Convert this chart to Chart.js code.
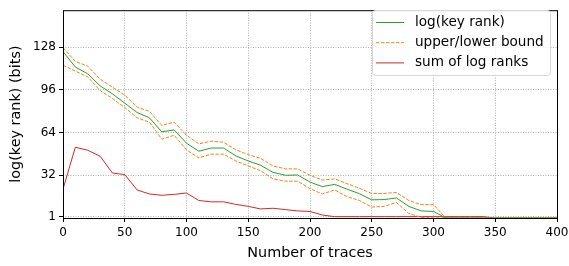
<!DOCTYPE html>
<html>
<head>
<meta charset="utf-8">
<script src="https://cdn.jsdelivr.net/npm/chart.js@4/dist/chart.umd.min.js"></script>
<style>
  html, body { margin: 0; padding: 0; background: #fff; }
  #wrap { width: 569px; height: 266px; }
</style>
</head>
<body>
<div id="wrap"><canvas id="myChart" width="569" height="266"></canvas></div>
<script>
// number of traces, one point every 10
const traces = [0,10,20,30,40,50,60,70,80,90,100,110,120,130,140,150,160,170,180,190,200,
  210,220,230,240,250,260,270,280,290,300,310,320,330,340,350,360,370,380,390,400];
const keyRank = [124.6,113,108,99,93,86,79,75,64.5,66,56,50,52.4,52.4,46.5,42.7,39.5,34.2,32,32.2,26.9,
  23.5,25.2,21.6,18.2,13.6,13.8,15,8.7,5.3,4.9,0,0,0,0,0,0,0,0,0,0];
const upperBound = [127.5,117.3,113.7,104,98,92,83,79.8,69.3,71.8,62,55.5,57.5,56.7,51,47.5,44.6,39,36.8,36.8,32,
  28.4,29.3,25.7,22.3,18.4,18.4,19.1,13.1,10,10,0,0,0,0,0,0,0,0,0,0];
const lowerBound = [114.4,110,105.7,95.5,89.5,82.7,75,71.8,59,62,51,45,47.8,47.8,42.7,39,35.4,29.3,27.6,27.6,22,
  18,21,16,13.1,8.2,8.7,11.6,3.4,0.5,0,0,0,0,0,0,0,0,0,0,0];
const sumLogRanks = [21.6,53,50.7,46.3,33.7,32.5,21,18,17,17.7,18.7,13.1,12.1,12.1,10.2,8.7,6.8,7.3,6.3,5.3,4.9,
  2.2,1,1,1,1,1,1,1,1,1,1,1,1,1,0,0,0,0,0,0];
const yTicks = [1, 32, 64, 96, 128];
const legendItems = [
  { label: 'log(key rank)', color: '#2ca02c', dash: [] },
  { label: 'upper/lower bound', color: '#ff7f0e', dash: [3.5, 1.5] },
  { label: 'sum of log ranks', color: '#d62728', dash: [] }
];

const FONT = 'DejaVu Sans';

function pts(arr) {
  return traces.map((t, i) => ({ x: t, y: arr[i] }));
}

// box round the plot + legend like matplotlib
const framePlugin = {
  id: 'frame',
  afterDraw(chart) {
    const ctx = chart.ctx;
    const a = chart.chartArea;
    ctx.save();
    ctx.strokeStyle = '#000';
    ctx.lineWidth = 1;
    ctx.setLineDash([]);
    ctx.strokeRect(a.left + 0.5, a.top + 0.5, a.right - a.left, a.bottom - a.top);

    // legend
    const bx = 372.5, by = 10.5, bw = 178, bh = 65;
    ctx.fillStyle = 'rgba(255,255,255,0.8)';
    ctx.strokeStyle = '#d6d6d6';
    ctx.beginPath();
    ctx.roundRect(bx, by, bw, bh, 3);
    ctx.fill();
    ctx.stroke();
    ctx.font = '13.6px ' + FONT;
    ctx.textBaseline = 'middle';
    ctx.fillStyle = '#000';
    legendItems.forEach((it, i) => {
      const y = 22.5 + i * 20.2;
      ctx.strokeStyle = it.color;
      ctx.lineWidth = 1;
      ctx.setLineDash(it.dash);
      ctx.beginPath();
      ctx.moveTo(376, y);
      ctx.lineTo(404, y);
      ctx.stroke();
      ctx.fillText(it.label, 415, y);
    });
    ctx.restore();
  }
};

let ctx = document.getElementById('myChart').getContext('2d');
let myChart = new Chart(ctx, {
  type: 'line',
  data: {
    datasets: [
      { label: 'log(key rank)', data: pts(keyRank), borderColor: '#2ca02c', borderWidth: 1 },
      { label: 'upper bound', data: pts(upperBound), borderColor: '#ff7f0e', borderWidth: 1, borderDash: [3.5, 1.5] },
      { label: 'lower bound', data: pts(lowerBound), borderColor: '#ff7f0e', borderWidth: 1, borderDash: [3.5, 1.5] },
      { label: 'sum of log ranks', data: pts(sumLogRanks), borderColor: '#d62728', borderWidth: 1 }
    ]
  },
  options: {
    responsive: false,
    animation: false,
    layout: { padding: { top: 4, right: 12, left: 4, bottom: 0 } },
    elements: { point: { radius: 0 }, line: { tension: 0 } },
    plugins: { legend: { display: false }, tooltip: { enabled: false } },
    scales: {
      x: {
        type: 'linear', min: 0, max: 400,
        ticks: { stepSize: 50, color: '#000', font: { family: FONT, size: 12 }, padding: 4, maxRotation: 0 },
        grid: { color: '#b0b0b0', tickColor: '#000', tickLength: 4, tickBorderDash: [] },
        border: { display: false, dash: [1, 1.5] },
        title: { display: true, text: 'Number of traces', color: '#000', font: { family: FONT, size: 14.4 }, padding: { top: 1 } },
        afterFit(scale) { scale.height = 48; scale.paddingLeft = 0; scale.paddingRight = 0; }
      },
      y: {
        type: 'linear', min: 0, max: 155.6,
        afterBuildTicks(scale) { scale.ticks = yTicks.map(v => ({ value: v })); },
        ticks: { color: '#000', font: { family: FONT, size: 12 }, padding: 3 },
        grid: { color: '#b0b0b0', tickColor: '#000', tickLength: 4, tickBorderDash: [] },
        border: { display: false, dash: [1, 1.5] },
        title: { display: true, text: 'log(key rank) (bits)', color: '#000', font: { family: FONT, size: 14.4 }, padding: { bottom: 4 } },
        afterFit(scale) { scale.width = 59; }
      }
    }
  },
  plugins: [framePlugin]
});
</script>
</body>
</html>
